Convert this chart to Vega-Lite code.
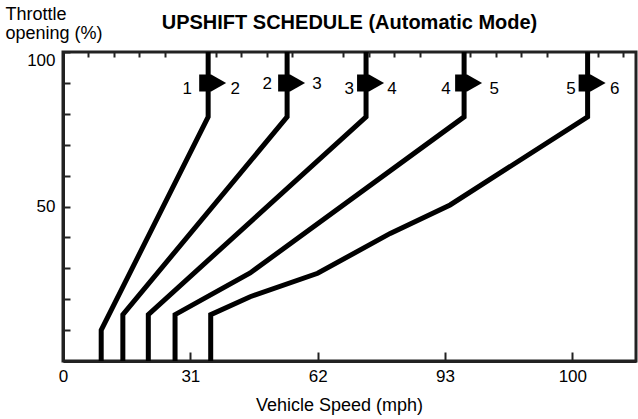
{
  "$schema": "https://vega.github.io/schema/vega-lite/v6.json",
  "width": 573,
  "height": 309,
  "autosize": {"type": "none"},
  "padding": {"left": 63, "top": 52, "right": 2, "bottom": 58},
  "background": "white",
  "config": {
    "view": {"stroke": "#222", "strokeWidth": 3},
    "font": "Liberation Sans",
    "axis": {
      "grid": false,
      "domainColor": "#222",
      "domainWidth": 3,
      "tickColor": "#222",
      "tickWidth": 2,
      "labelColor": "#000",
      "titleColor": "#000",
      "labelFont": "Liberation Sans",
      "titleFont": "Liberation Sans",
      "labelFontSize": 17,
      "titleFontSize": 18,
      "titleFontWeight": "normal"
    }
  },
  "title": {
    "text": "UPSHIFT SCHEDULE (Automatic Mode)",
    "font": "Liberation Sans",
    "fontSize": 20,
    "fontWeight": "bold",
    "color": "#000",
    "anchor": "middle",
    "frame": "group",
    "offset": -28
  },
  "encoding": {
    "y": {
      "field": "throttle",
      "type": "quantitative",
      "scale": {"domain": [0, 100], "nice": false},
      "axis": {
        "title": ["Throttle", "opening (%)"],
        "values": [0, 10, 20, 30, 40, 50, 60, 70, 80, 90, 100],
        "labelExpr": "datum.value == 50 || datum.value == 100 ? datum.label : ''",
        "tickSize": -7,
        "labelPadding": 15,
        "labelFlush": true,
        "labelOverlap": false,
        "titleAngle": 0,
        "titleAlign": "left",
        "titleBaseline": "alphabetic",
        "titleX": -58,
        "titleY": -33,
        "titleLineHeight": 19
      }
    }
  },
  "layer": [
    {
      "data": {
        "values": [
          {"shift": "1-2", "o": 1, "speed": 1.14, "throttle": 100},
          {"shift": "1-2", "o": 2, "speed": 1.14, "throttle": 79},
          {"shift": "1-2", "o": 3, "speed": 0.30, "throttle": 10},
          {"shift": "1-2", "o": 4, "speed": 0.30, "throttle": 0},
          {"shift": "2-3", "o": 1, "speed": 1.76, "throttle": 100},
          {"shift": "2-3", "o": 2, "speed": 1.76, "throttle": 79},
          {"shift": "2-3", "o": 3, "speed": 0.47, "throttle": 15},
          {"shift": "2-3", "o": 4, "speed": 0.47, "throttle": 0},
          {"shift": "3-4", "o": 1, "speed": 2.38, "throttle": 100},
          {"shift": "3-4", "o": 2, "speed": 2.38, "throttle": 79},
          {"shift": "3-4", "o": 3, "speed": 0.67, "throttle": 15},
          {"shift": "3-4", "o": 4, "speed": 0.67, "throttle": 0},
          {"shift": "4-5", "o": 1, "speed": 3.15, "throttle": 100},
          {"shift": "4-5", "o": 2, "speed": 3.15, "throttle": 79},
          {"shift": "4-5", "o": 3, "speed": 1.47, "throttle": 28.5},
          {"shift": "4-5", "o": 4, "speed": 0.88, "throttle": 15},
          {"shift": "4-5", "o": 5, "speed": 0.88, "throttle": 0},
          {"shift": "5-6", "o": 1, "speed": 4.12, "throttle": 100},
          {"shift": "5-6", "o": 2, "speed": 4.12, "throttle": 79},
          {"shift": "5-6", "o": 3, "speed": 3.04, "throttle": 50.5},
          {"shift": "5-6", "o": 4, "speed": 2.57, "throttle": 41.3},
          {"shift": "5-6", "o": 5, "speed": 2.0, "throttle": 28.4},
          {"shift": "5-6", "o": 6, "speed": 1.47, "throttle": 20.8},
          {"shift": "5-6", "o": 7, "speed": 1.16, "throttle": 15},
          {"shift": "5-6", "o": 8, "speed": 1.16, "throttle": 0}
        ]
      },
      "mark": {"type": "line", "color": "#000", "strokeWidth": 5, "strokeJoin": "miter", "strokeCap": "butt"},
      "encoding": {
        "x": {
          "field": "speed",
          "type": "quantitative",
          "scale": {"domain": [0, 4.5], "nice": false, "zero": false},
          "axis": {
            "values": [0, 1, 2, 3, 4],
            "labelExpr": "['0','31','62','93','100'][datum.value]",
            "labelFlush": false,
            "labelOverlap": false,
            "tickSize": -9,
            "labelPadding": 16,
            "title": "Vehicle Speed (mph)",
            "titlePadding": 12,
            "titleX": 276
          }
        },
        "detail": {"field": "shift"},
        "order": {"field": "o"}
      }
    },
    {
      "data": {
        "values": [
          {"shift": "1-2", "speed": 1.14, "throttle": 90},
          {"shift": "2-3", "speed": 1.76, "throttle": 90},
          {"shift": "3-4", "speed": 2.38, "throttle": 90},
          {"shift": "4-5", "speed": 3.15, "throttle": 90},
          {"shift": "5-6", "speed": 4.12, "throttle": 90}
        ]
      },
      "mark": {
        "type": "point",
        "shape": "M-0.9,-0.85L0.3,-0.85L1.8,0L0.3,0.85L-0.9,0.85Z",
        "size": 400,
        "filled": true,
        "color": "#000",
        "opacity": 1,
        "strokeWidth": 0
      },
      "encoding": {
        "x": {
          "field": "speed",
          "type": "quantitative",
          "scale": {"domain": [0, 4.5], "nice": false, "zero": false},
          "axis": {
            "values": [0.2, 0.4, 0.6, 0.8, 1.2, 1.4, 1.6, 1.8, 2.2, 2.4, 2.6, 2.8, 3.2, 3.4, 3.6, 3.8, 4.2, 4.4],
            "labels": false,
            "domain": false,
            "tickSize": -5,
            "title": null
          }
        }
      }
    },
    {
      "data": {
        "values": [
          {"label": "1", "speed": 0.975, "throttle": 87.9},
          {"label": "2", "speed": 1.352, "throttle": 87.9},
          {"label": "2", "speed": 1.604, "throttle": 89.5},
          {"label": "3", "speed": 1.994, "throttle": 89.5},
          {"label": "3", "speed": 2.247, "throttle": 87.9},
          {"label": "4", "speed": 2.584, "throttle": 87.9},
          {"label": "4", "speed": 3.007, "throttle": 87.9},
          {"label": "5", "speed": 3.387, "throttle": 87.9},
          {"label": "5", "speed": 3.990, "throttle": 87.9},
          {"label": "6", "speed": 4.333, "throttle": 87.9}
        ]
      },
      "mark": {"type": "text", "fontSize": 17, "font": "Liberation Sans", "color": "#000", "align": "center", "baseline": "middle"},
      "encoding": {
        "x": {
          "field": "speed",
          "type": "quantitative",
          "scale": {"domain": [0, 4.5], "nice": false, "zero": false},
          "axis": null
        },
        "text": {"field": "label"}
      }
    }
  ],
  "resolve": {"axis": {"x": "independent"}}
}
